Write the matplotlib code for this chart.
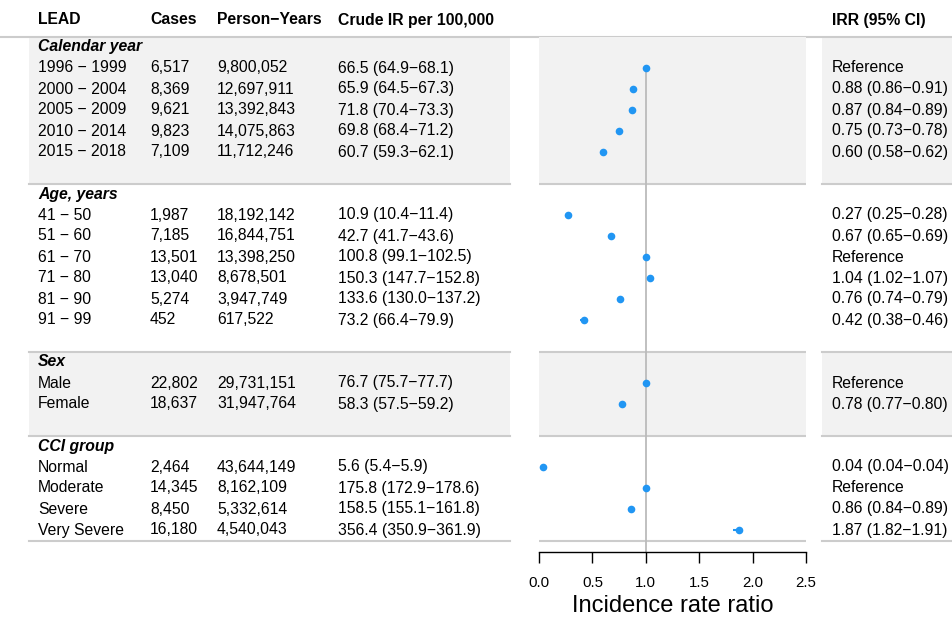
"""
Forest plot of incidence rate ratios for LEAD, with a table on each side.
"""

import matplotlib.pyplot as plt

# %%
# Data
# ---------------------------------

groups = ["Calendar year", "Age, years", "Sex", "CCI group"]

labels = [
    ["1996 \u2212 1999", "2000 \u2212 2004", "2005 \u2212 2009", "2010 \u2212 2014", "2015 \u2212 2018"],
    ["41 \u2212 50", "51 \u2212 60", "61 \u2212 70", "71 \u2212 80", "81 \u2212 90", "91 \u2212 99"],
    ["Male", "Female"],
    ["Normal", "Moderate", "Severe", "Very Severe"],
]

cases = [
    [6517, 8369, 9621, 9823, 7109],
    [1987, 7185, 13501, 13040, 5274, 452],
    [22802, 18637],
    [2464, 14345, 8450, 16180],
]

person_years = [
    [9800052, 12697911, 13392843, 14075863, 11712246],
    [18192142, 16844751, 13398250, 8678501, 3947749, 617522],
    [29731151, 31947764],
    [43644149, 8162109, 5332614, 4540043],
]

crude_ir = [
    [66.5, 65.9, 71.8, 69.8, 60.7],
    [10.9, 42.7, 100.8, 150.3, 133.6, 73.2],
    [76.7, 58.3],
    [5.6, 175.8, 158.5, 356.4],
]
crude_lo = [
    [64.9, 64.5, 70.4, 68.4, 59.3],
    [10.4, 41.7, 99.1, 147.7, 130.0, 66.4],
    [75.7, 57.5],
    [5.4, 172.9, 155.1, 350.9],
]
crude_hi = [
    [68.1, 67.3, 73.3, 71.2, 62.1],
    [11.4, 43.6, 102.5, 152.8, 137.2, 79.9],
    [77.7, 59.2],
    [5.9, 178.6, 161.8, 361.9],
]

# None marks the reference category
irr = [
    [None, 0.88, 0.87, 0.75, 0.60],
    [0.27, 0.67, None, 1.04, 0.76, 0.42],
    [None, 0.78],
    [0.04, None, 0.86, 1.87],
]
irr_lo = [
    [None, 0.86, 0.84, 0.73, 0.58],
    [0.25, 0.65, None, 1.02, 0.74, 0.38],
    [None, 0.77],
    [0.04, None, 0.84, 1.82],
]
irr_hi = [
    [None, 0.91, 0.89, 0.78, 0.62],
    [0.28, 0.69, None, 1.07, 0.79, 0.46],
    [None, 0.80],
    [0.04, None, 0.89, 1.91],
]

headers = ["LEAD", "Cases", "Person\u2212Years", "Crude IR per 100,000"]
xticks = [0.0, 0.5, 1.0, 1.5, 2.0, 2.5]

# %%
# Layout (pixels on a 953 x 618 canvas, rows 21 px apart)
# ------------------------------------------------------

W, H = 953, 618
ROW0, ROWH = 47, 21


def row_of(px):
    return (px - ROW0) / ROWH


col_x = [38, 150, 217, 338]
irr_x = 832
left_band = (29, 510)
right_band = (822, 953)
plot_px = (539, 806)
axis_px = 552

shade = "#f2f2f2"
rule = "#cccccc"
dot = "#2196F3"
fs = 11.3

plt.rcParams["font.family"] = ["Liberation Sans", "DejaVu Sans"]

fig = plt.figure(figsize=(W / 100, H / 100), dpi=100)
bg = fig.add_axes([0, 0, 1, 1])
bg.set_xlim(0, W)
bg.set_ylim(row_of(H), row_of(0))
bg.axis("off")

ax = fig.add_axes([plot_px[0] / W, 1 - axis_px / H,
                   (plot_px[1] - plot_px[0]) / W, (axis_px - 36.5) / H])
ax.set_xlim(0, 2.5)
ax.set_ylim(row_of(axis_px), -0.5)
ax.patch.set_alpha(0)

# header row
for x, h in zip(col_x, headers):
    bg.text(x, row_of(20), h, fontsize=fs, fontweight="bold", va="center")
bg.text(irr_x, row_of(20), "IRR (95% CI)", fontsize=fs, fontweight="bold", va="center")
bg.plot([0, W], [-0.5, -0.5], color=rule, lw=1.5, zorder=1)

# body
row = 0
points = []
for g, name in enumerate(groups):
    n = len(labels[g])
    top = row - 0.5
    last = g == len(groups) - 1
    bottom = row + n + (0.5 if last else 1.5)

    if g % 2 == 0:
        for lo, hi in (left_band, right_band):
            bg.fill_between([lo, hi], top, bottom, color=shade, lw=0, zorder=0)
        ax.axhspan(top, bottom, color=shade, lw=0, zorder=0)
    for lo, hi in (left_band, right_band):
        bg.plot([lo, hi], [bottom, bottom], color=rule, lw=1.5, zorder=1)
    ax.axhline(bottom, color=rule, lw=1.5, zorder=1)

    bg.text(col_x[0], row, name, fontsize=fs, fontweight="bold", fontstyle="italic", va="center")
    for i in range(n):
        r = row + 1 + i
        bg.text(col_x[0], r, labels[g][i], fontsize=fs, va="center")
        bg.text(col_x[1], r, f"{cases[g][i]:,}", fontsize=fs, va="center")
        bg.text(col_x[2], r, f"{person_years[g][i]:,}", fontsize=fs, va="center")
        bg.text(col_x[3], r, f"{crude_ir[g][i]:.1f} ({crude_lo[g][i]:.1f}\u2212{crude_hi[g][i]:.1f})",
                fontsize=fs, va="center")
        if irr[g][i] is None:
            bg.text(irr_x, r, "Reference", fontsize=fs, va="center")
            points.append((r, 1.0, 1.0, 1.0))
        else:
            bg.text(irr_x, r, f"{irr[g][i]:.2f} ({irr_lo[g][i]:.2f}\u2212{irr_hi[g][i]:.2f})",
                    fontsize=fs, va="center")
            points.append((r, irr[g][i], irr_lo[g][i], irr_hi[g][i]))
    row += n + 2

# forest plot
ax.vlines(1.0, 1, row_of(axis_px), color="#bbbbbb", lw=1.3, zorder=2)
ys = [p[0] for p in points]
xs = [p[1] for p in points]
ax.hlines(ys, [p[2] for p in points], [p[3] for p in points], color=dot, lw=1.5, zorder=3)
ax.plot(xs, ys, "o", color=dot, ms=5.5, mec="none", zorder=4, clip_on=False)

for side in ("top", "left", "right"):
    ax.spines[side].set_visible(False)
ax.spines["bottom"].set_linewidth(1.0)
ax.spines["bottom"].set_bounds(0, 2.5)
ax.set_yticks([])
ax.set_xticks(xticks)
ax.set_xticklabels([f"{t:.1f}" for t in xticks])
ax.tick_params(axis="x", length=8, width=1.0, pad=9, labelsize=10.8)
ax.set_xlabel("Incidence rate ratio", fontsize=17, labelpad=4)

fig.savefig("out.png", dpi=100)
